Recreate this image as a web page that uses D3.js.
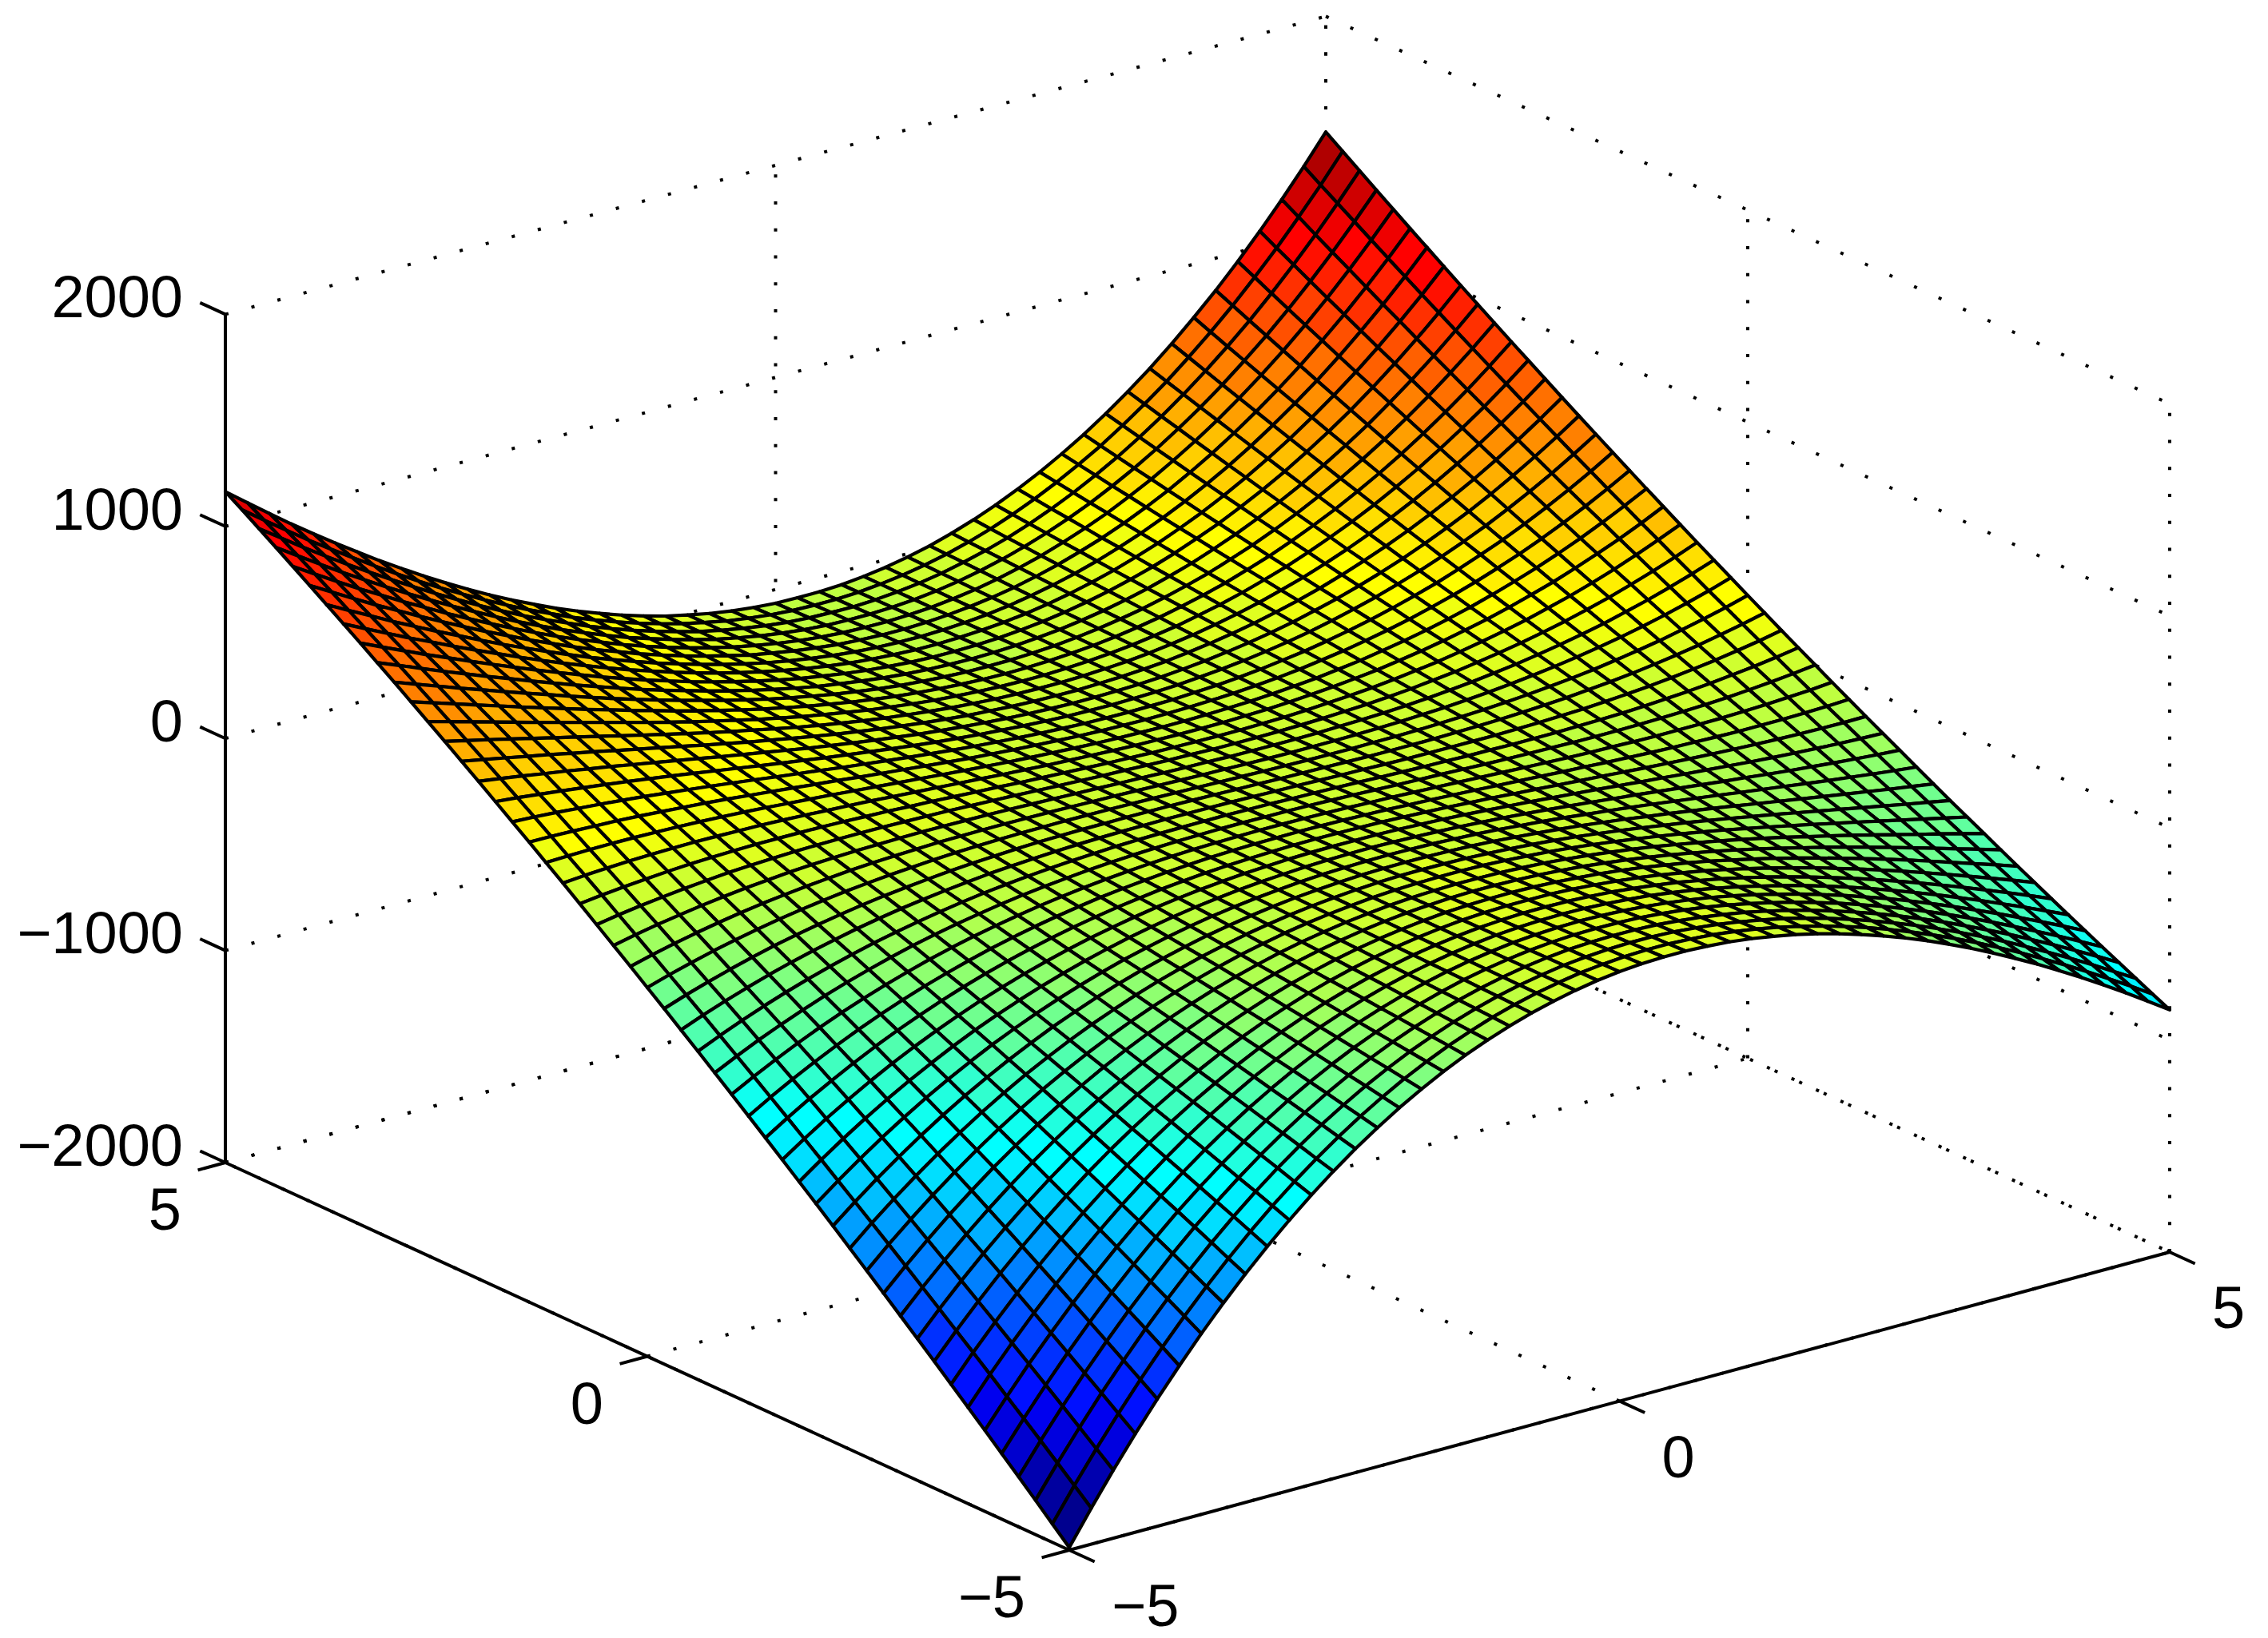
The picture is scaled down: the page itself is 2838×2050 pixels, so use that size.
<!DOCTYPE html>
<html>
<head>
<meta charset="utf-8">
<script src="https://d3js.org/d3.v7.min.js"></script>
<style>
  body { margin: 0; background: #fff; }
  text { font-family: "Liberation Sans", Arial, sans-serif; font-size: 74px; fill: #000; }
</style>
</head>
<body>
<div id="chart"></div>
<script>
// Tick values
const xTicks = [-5, 0, 5];
const yTicks = [-5, 0, 5];
const zTicks = [-2000, -1000, 0, 1000, 2000];

// Mesh positions, same for both floor directions
const xGrid = [-5,-4.8,-4.6,-4.4,-4.2,-4,-3.8,-3.6,-3.4,-3.2,-3,-2.8,-2.6,-2.4,-2.2,-2,-1.8,-1.6,-1.4,-1.2,-1,-0.8,-0.6,-0.4,-0.2,0,0.2,0.4,0.6,0.8,1,1.2,1.4,1.6,1.8,2,2.2,2.4,2.6,2.8,3,3.2,3.4,3.6,3.8,4,4.2,4.4,4.6,4.8,5];
const yGrid = [-5,-4.8,-4.6,-4.4,-4.2,-4,-3.8,-3.6,-3.4,-3.2,-3,-2.8,-2.6,-2.4,-2.2,-2,-1.8,-1.6,-1.4,-1.2,-1,-0.8,-0.6,-0.4,-0.2,0,0.2,0.4,0.6,0.8,1,1.2,1.4,1.6,1.8,2,2.2,2.4,2.6,2.8,3,3.2,3.4,3.6,3.8,4,4.2,4.4,4.6,4.8,5];

// Surface heights, zGrid[i][j] is the height at xGrid[i], yGrid[j]
const zGrid = [
[-1988,-1913,-1838,-1764,-1691,-1618,-1546,-1474,-1402,-1331,-1261,-1191,-1121,-1052,-983,-915,-848,-781,-714,-648,-582,-517,-452,-388,-324,-261,-198,-136,-74,-12,49,109,169,228,287,346,404,461,518,575,631,686,742,796,850,904,957,1010,1062,1114,1164],
[-1830,-1760,-1691,-1622,-1554,-1487,-1419,-1352,-1286,-1220,-1155,-1090,-1025,-961,-898,-835,-772,-710,-648,-587,-526,-466,-406,-346,-287,-229,-171,-113,-56,1,57,112,168,223,277,331,384,437,490,542,593,645,695,745,795,845,893,942,990,1037,1084],
[-1679,-1615,-1551,-1487,-1424,-1361,-1299,-1237,-1176,-1115,-1055,-995,-935,-876,-817,-759,-701,-643,-586,-530,-474,-418,-363,-308,-254,-200,-146,-93,-41,11,63,114,165,216,265,315,364,413,461,509,556,603,649,695,741,786,830,875,918,962,1005],
[-1536,-1477,-1417,-1359,-1300,-1243,-1185,-1128,-1071,-1015,-960,-904,-849,-795,-741,-687,-634,-581,-529,-477,-425,-374,-323,-273,-223,-173,-124,-76,-28,20,68,115,161,207,253,298,343,388,432,475,518,561,603,645,687,728,768,809,849,888,927],
[-1400,-1345,-1291,-1237,-1183,-1130,-1077,-1025,-973,-921,-870,-819,-769,-719,-669,-620,-571,-522,-474,-427,-379,-333,-286,-240,-194,-149,-104,-60,-16,28,71,114,157,199,240,282,323,363,403,443,482,521,560,598,635,673,710,746,782,818,853],
[-1271,-1220,-1170,-1121,-1072,-1023,-975,-927,-879,-832,-785,-738,-692,-647,-601,-556,-512,-467,-423,-380,-337,-294,-252,-210,-168,-127,-86,-46,-6,34,73,112,151,189,227,264,301,338,374,410,446,481,516,550,584,618,651,684,717,749,781],
[-1148,-1102,-1057,-1012,-967,-922,-878,-834,-791,-748,-705,-663,-621,-579,-538,-497,-457,-416,-376,-337,-298,-259,-221,-183,-145,-107,-70,-34,3,38,74,109,144,179,213,247,280,313,346,378,410,442,473,504,535,565,595,624,654,682,711],
[-1032,-991,-949,-908,-868,-827,-787,-747,-708,-669,-630,-592,-554,-516,-479,-442,-405,-369,-333,-297,-262,-227,-192,-158,-124,-90,-57,-24,9,41,73,105,136,167,198,228,258,288,317,346,375,403,431,459,486,513,539,566,592,617,642],
[-923,-886,-848,-811,-774,-738,-702,-666,-630,-595,-560,-526,-491,-457,-424,-390,-357,-325,-292,-260,-229,-197,-166,-135,-105,-75,-45,-15,14,43,71,100,128,155,183,210,236,263,289,314,340,365,390,414,438,462,486,509,532,554,577],
[-821,-787,-753,-720,-687,-654,-622,-589,-558,-526,-495,-464,-433,-403,-373,-343,-313,-284,-255,-227,-198,-170,-143,-115,-88,-61,-35,-8,18,43,69,94,119,143,167,191,215,238,261,284,306,328,350,371,393,414,434,455,475,494,514],
[-725,-694,-664,-635,-605,-576,-547,-518,-490,-462,-434,-406,-379,-352,-325,-299,-273,-247,-221,-196,-171,-146,-122,-97,-73,-50,-26,-3,20,42,65,87,108,130,151,172,193,213,233,253,272,292,311,329,348,366,384,402,419,436,453],
[-635,-608,-581,-555,-529,-503,-477,-452,-427,-402,-378,-353,-329,-305,-282,-259,-236,-213,-190,-168,-146,-124,-103,-82,-61,-40,-19,1,21,41,60,79,98,117,135,153,171,189,206,224,240,257,273,290,305,321,336,351,366,381,395],
[-551,-528,-504,-481,-458,-435,-413,-391,-369,-347,-326,-304,-283,-263,-242,-222,-202,-182,-162,-143,-124,-105,-86,-68,-50,-32,-14,3,21,38,54,71,87,103,119,135,150,165,180,194,209,223,237,251,264,277,290,303,315,328,340],
[-473,-453,-432,-412,-392,-373,-353,-334,-315,-296,-278,-259,-241,-223,-205,-188,-171,-154,-137,-120,-104,-87,-71,-56,-40,-25,-10,5,20,34,49,63,76,90,103,117,129,142,155,167,179,191,202,214,225,236,247,257,268,278,288],
[-402,-384,-367,-349,-332,-315,-299,-282,-266,-250,-234,-218,-203,-187,-172,-157,-143,-128,-114,-100,-86,-72,-59,-45,-32,-19,-6,6,18,31,43,54,66,77,88,99,110,121,131,141,151,161,170,180,189,198,207,215,224,232,240],
[-336,-321,-306,-292,-277,-263,-249,-235,-221,-208,-194,-181,-168,-155,-143,-130,-118,-106,-94,-82,-71,-59,-48,-37,-26,-15,-5,5,16,25,35,45,54,63,72,81,90,99,107,115,123,131,138,146,153,160,167,174,180,186,193],
[-276,-263,-251,-239,-227,-215,-203,-192,-181,-169,-158,-148,-137,-126,-116,-106,-96,-86,-76,-66,-57,-48,-39,-30,-21,-12,-4,4,13,21,28,36,43,51,58,65,72,78,85,91,98,104,109,115,121,126,131,136,141,146,151],
[-221,-211,-201,-191,-182,-172,-163,-153,-144,-135,-126,-118,-109,-101,-92,-84,-76,-68,-61,-53,-46,-38,-31,-24,-17,-10,-4,3,9,15,21,27,33,38,44,49,54,59,64,69,73,78,82,86,90,94,98,102,105,108,112],
[-172,-164,-157,-149,-141,-134,-126,-119,-112,-105,-98,-91,-85,-78,-72,-65,-59,-53,-47,-42,-36,-30,-25,-20,-15,-10,-5,0,5,9,14,18,22,26,30,34,38,41,45,48,51,54,57,60,62,65,67,70,72,74,76],
[-129,-123,-117,-111,-105,-100,-94,-89,-84,-78,-73,-68,-63,-59,-54,-49,-45,-40,-36,-32,-28,-24,-20,-17,-13,-9,-6,-3,1,4,7,9,12,15,17,20,22,24,27,29,31,32,34,36,37,39,40,41,42,43,44],
[-91,-86,-82,-78,-74,-70,-66,-63,-59,-55,-52,-49,-45,-42,-39,-36,-33,-30,-27,-25,-22,-20,-17,-15,-13,-10,-8,-6,-4,-3,-1,1,2,4,5,6,8,9,10,11,12,12,13,14,14,14,15,15,15,15,15],
[-58,-55,-52,-50,-47,-45,-43,-40,-38,-36,-34,-32,-30,-28,-26,-25,-23,-21,-20,-18,-17,-16,-15,-14,-12,-11,-11,-10,-9,-8,-7,-7,-6,-6,-5,-5,-5,-4,-4,-4,-4,-4,-4,-5,-5,-5,-6,-6,-7,-7,-8],
[-30,-28,-27,-26,-25,-24,-23,-22,-21,-20,-19,-19,-18,-17,-17,-16,-16,-15,-15,-14,-14,-14,-14,-13,-13,-13,-13,-13,-13,-13,-14,-14,-14,-14,-15,-15,-16,-16,-17,-18,-19,-19,-20,-21,-22,-23,-24,-25,-26,-28,-29],
[-7,-7,-7,-6,-7,-7,-7,-7,-7,-7,-7,-8,-8,-8,-9,-9,-10,-10,-11,-11,-12,-12,-13,-14,-14,-15,-16,-17,-18,-18,-19,-20,-21,-22,-23,-24,-26,-27,-28,-29,-31,-32,-33,-35,-36,-37,-39,-40,-42,-43,-45],
[12,11,10,9,8,7,6,5,4,3,1,0,-1,-2,-3,-5,-6,-7,-8,-10,-11,-12,-13,-15,-16,-17,-19,-20,-21,-23,-24,-26,-27,-29,-30,-32,-33,-35,-36,-38,-40,-42,-43,-45,-47,-49,-50,-52,-54,-55,-57],
[25,23,21,20,18,16,14,12,11,9,7,5,3,2,0,-2,-4,-6,-7,-9,-11,-13,-15,-16,-18,-20,-22,-24,-25,-27,-29,-31,-33,-34,-36,-38,-40,-42,-43,-45,-47,-49,-51,-52,-54,-56,-58,-60,-61,-63,-65],
[34,31,29,26,24,22,19,17,15,12,10,8,5,3,1,-1,-3,-6,-8,-10,-12,-14,-16,-18,-21,-23,-25,-27,-29,-31,-33,-35,-37,-39,-41,-42,-44,-46,-48,-50,-52,-53,-55,-57,-58,-60,-61,-63,-64,-66,-67],
[38,35,32,29,26,24,21,18,15,13,10,7,5,2,0,-3,-5,-7,-10,-12,-14,-16,-19,-21,-23,-25,-27,-29,-31,-33,-35,-37,-39,-41,-43,-45,-46,-48,-50,-52,-53,-55,-56,-58,-59,-61,-62,-63,-65,-66,-67],
[38,35,32,28,25,22,19,16,14,11,8,5,3,0,-3,-5,-8,-10,-12,-15,-17,-19,-21,-23,-26,-28,-30,-32,-34,-35,-37,-39,-41,-42,-44,-45,-47,-48,-50,-51,-52,-53,-54,-55,-56,-57,-58,-59,-60,-61,-62],
[33,30,27,24,21,17,14,11,9,6,3,0,-2,-5,-7,-10,-12,-14,-16,-18,-21,-22,-24,-26,-28,-30,-32,-33,-35,-36,-37,-39,-40,-41,-42,-43,-44,-45,-46,-47,-48,-48,-49,-49,-50,-50,-51,-51,-51,-51,-51],
[25,22,18,15,12,9,6,4,1,-2,-4,-6,-9,-11,-13,-15,-17,-19,-21,-23,-24,-26,-27,-29,-30,-32,-33,-34,-35,-36,-37,-37,-38,-39,-39,-40,-40,-40,-40,-40,-41,-40,-40,-40,-40,-39,-39,-38,-38,-37,-36],
[12,9,6,3,1,-2,-4,-7,-9,-11,-13,-15,-17,-19,-21,-22,-24,-25,-26,-28,-29,-30,-31,-31,-32,-33,-33,-34,-34,-34,-34,-34,-34,-34,-34,-34,-33,-33,-32,-31,-30,-29,-28,-27,-26,-24,-23,-21,-20,-18,-16],
[-5,-7,-10,-12,-14,-16,-18,-20,-21,-23,-25,-26,-27,-28,-30,-31,-31,-32,-33,-33,-33,-34,-34,-34,-34,-34,-33,-33,-32,-32,-31,-30,-29,-28,-26,-25,-24,-22,-20,-18,-16,-14,-12,-10,-7,-5,-2,1,4,6,9],
[-25,-27,-29,-30,-32,-33,-34,-35,-36,-37,-38,-39,-39,-39,-40,-40,-40,-40,-39,-39,-38,-37,-37,-36,-35,-33,-32,-30,-29,-27,-25,-23,-21,-19,-16,-14,-11,-8,-5,-2,1,4,8,11,15,19,23,27,31,35,40],
[-49,-51,-51,-52,-53,-53,-54,-54,-54,-54,-54,-53,-53,-52,-51,-50,-49,-48,-47,-45,-43,-41,-39,-37,-35,-33,-30,-27,-24,-21,-18,-15,-12,-8,-4,0,4,8,12,17,21,26,31,36,41,47,52,58,63,69,76],
[-77,-77,-77,-77,-77,-76,-75,-74,-73,-72,-71,-69,-68,-66,-64,-62,-59,-57,-54,-51,-48,-45,-42,-38,-35,-31,-27,-23,-19,-14,-9,-5,0,6,11,16,22,28,34,40,46,52,59,65,72,80,87,94,101,109,117],
[-109,-108,-106,-105,-103,-102,-100,-97,-95,-92,-90,-87,-84,-81,-77,-74,-70,-66,-62,-57,-53,-48,-43,-38,-33,-28,-22,-17,-11,-5,2,8,15,21,28,35,43,50,58,66,74,82,90,99,108,116,126,135,144,154,164],
[-144,-141,-139,-136,-133,-129,-126,-122,-119,-115,-110,-106,-101,-97,-92,-86,-81,-75,-70,-64,-58,-51,-45,-38,-31,-24,-17,-9,-2,6,14,22,31,40,48,57,67,76,86,95,105,115,126,136,147,158,169,180,192,204,216],
[-182,-178,-174,-169,-164,-160,-154,-149,-144,-138,-132,-126,-120,-113,-106,-99,-92,-85,-77,-69,-62,-53,-45,-36,-28,-19,-9,0,10,20,30,40,51,61,72,83,94,106,118,130,142,154,167,179,192,205,219,232,246,260,274],
[-223,-218,-212,-205,-199,-192,-185,-178,-171,-163,-155,-147,-139,-131,-122,-113,-104,-95,-85,-76,-66,-55,-45,-34,-23,-12,-1,11,22,34,47,59,72,85,98,111,124,138,152,166,181,195,210,225,241,256,272,288,304,320,337],
[-268,-260,-252,-244,-235,-227,-218,-209,-199,-190,-180,-170,-160,-149,-138,-127,-116,-104,-93,-81,-68,-56,-43,-30,-17,-4,10,24,38,52,67,81,96,112,127,143,159,175,192,208,225,242,260,277,295,313,332,350,369,388,407],
[-315,-305,-295,-285,-274,-263,-252,-241,-230,-218,-206,-193,-181,-168,-155,-141,-128,-114,-100,-86,-71,-56,-41,-26,-10,6,22,38,55,72,89,106,124,142,160,178,197,215,235,254,273,293,313,334,354,375,396,418,439,461,483],
[-366,-353,-341,-328,-315,-302,-289,-275,-261,-247,-232,-218,-203,-187,-172,-156,-140,-123,-107,-90,-73,-55,-38,-20,-1,17,36,55,74,94,113,133,154,174,195,216,238,259,281,303,326,348,371,395,418,442,466,490,515,539,564],
[-419,-404,-389,-374,-358,-343,-327,-310,-294,-277,-260,-243,-225,-207,-189,-170,-151,-132,-113,-93,-73,-53,-33,-12,9,30,52,74,96,118,141,164,187,211,234,259,283,308,332,358,383,409,435,461,488,515,542,569,597,625,653],
[-474,-457,-439,-422,-403,-385,-366,-347,-328,-308,-288,-268,-248,-227,-206,-184,-163,-141,-118,-96,-73,-50,-26,-3,21,46,70,95,120,146,172,198,224,251,277,305,332,360,388,416,445,474,503,533,563,593,623,654,685,716,748],
[-533,-513,-492,-471,-450,-429,-407,-385,-363,-340,-317,-294,-271,-247,-223,-198,-174,-149,-123,-98,-72,-46,-19,8,35,63,90,118,147,175,204,234,263,293,323,354,385,416,447,479,511,543,576,609,642,676,710,744,778,813,848],
[-593,-570,-547,-523,-499,-474,-449,-424,-399,-373,-347,-321,-294,-267,-240,-212,-184,-156,-127,-98,-69,-40,-10,21,51,82,113,145,176,208,241,274,307,340,374,408,442,477,512,547,583,619,655,691,728,766,803,841,879,918,956],
[-656,-630,-603,-576,-549,-521,-493,-464,-436,-407,-377,-348,-317,-287,-256,-225,-194,-162,-130,-98,-65,-32,2,35,69,104,138,173,209,244,281,317,354,391,428,466,504,542,581,620,659,699,739,779,820,861,902,944,986,1028,1071],
[-721,-692,-661,-631,-600,-569,-537,-505,-473,-441,-408,-374,-341,-307,-273,-238,-203,-168,-132,-96,-59,-23,14,52,90,128,166,205,244,284,323,364,404,445,486,528,570,612,654,697,741,784,828,873,917,962,1008,1053,1099,1146,1192],
[-789,-755,-722,-687,-653,-618,-583,-547,-511,-475,-438,-401,-364,-326,-288,-250,-211,-172,-133,-93,-53,-12,29,70,112,154,196,239,282,326,369,414,458,503,548,594,640,686,733,780,827,875,923,971,1020,1069,1119,1169,1219,1269,1320],
[-858,-821,-783,-745,-707,-668,-629,-590,-550,-510,-469,-428,-387,-346,-304,-261,-218,-175,-132,-88,-44,1,46,91,137,183,230,276,323,371,419,467,516,565,614,664,714,765,816,867,919,971,1023,1076,1129,1182,1236,1290,1345,1400,1455]
];

// jet colormap stops, by colormap index 1..64
const jetIndex = [1, 8, 24, 40, 56, 64];
const jetColors = ["#00008f", "#0000ff", "#00ffff", "#ffff00", "#ff0000", "#800000"];

const width = 2838;
const height = 2050;

const svg = d3.select("#chart").append("svg")
  .attr("width", width)
  .attr("height", height)
  .style("display", "block");

// Fixed 3D view, each data axis adds its own screen offset
const xToPx = d3.scaleLinear().domain([-5, 5]).range([1338, 2715]);
const yToPx = d3.scaleLinear().domain([-5, 5]).range([0, -1056]);
const zToPy = d3.scaleLinear().domain([-2000, 2000]).range([1940, 878.4]);
const xToPy = d3.scaleLinear().domain([-5, 5]).range([0, -373]);
const yToPy = d3.scaleLinear().domain([-5, 5]).range([0, -485]);

const project = (x, y, z) => [xToPx(x) + yToPx(y), zToPy(z) + xToPy(x) + yToPy(y)];

const jetScale = d3.scaleLinear().domain(jetIndex).range(jetColors);
const colorScale = d3.scaleQuantize()
  .domain(d3.extent(zGrid.flat()))
  .range(d3.range(1, 65).map(k => jetScale(k)));

const line = d3.line();
const zMin = zTicks[0];
const zMax = zTicks[zTicks.length - 1];
const xMin = xTicks[0], xMax = xTicks[2];
const yMin = yTicks[0], yMax = yTicks[2];

// Dotted grid on the two back walls and the floor
const gridLines = [];
zTicks.forEach(z => {
  gridLines.push([project(xMin, yMax, z), project(xMax, yMax, z)]);
  gridLines.push([project(xMax, yMax, z), project(xMax, yMin, z)]);
});
xTicks.forEach(x => {
  gridLines.push([project(x, yMax, zMin), project(x, yMax, zMax)]);
  gridLines.push([project(x, yMin, zMin), project(x, yMax, zMin)]);
});
yTicks.forEach(y => {
  gridLines.push([project(xMax, y, zMin), project(xMax, y, zMax)]);
  gridLines.push([project(xMin, y, zMin), project(xMax, y, zMin)]);
});

svg.selectAll(".grid")
  .data(gridLines)
  .enter().append("path")
  .attr("class", "grid")
  .attr("d", line)
  .attr("fill", "none")
  .attr("stroke", "#000")
  .attr("stroke-width", 4)
  .attr("stroke-dasharray", "4 29.75");

// Solid axes
const axisLines = [
  [project(xMin, yMin, zMin), project(xMax, yMin, zMin)],
  [project(xMin, yMin, zMin), project(xMin, yMax, zMin)],
  [project(xMin, yMax, zMin), project(xMin, yMax, zMax)]
];
xTicks.forEach(x => axisLines.push([project(x, yMin, zMin), project(x, yMin - 0.3, zMin)]));
yTicks.forEach(y => axisLines.push([project(xMin, y, zMin), project(xMin - 0.25, y, zMin)]));
zTicks.forEach(z => axisLines.push([project(xMin, yMax, z), project(xMin, yMax + 0.3, z)]));

svg.selectAll(".axis-line")
  .data(axisLines)
  .enter().append("path")
  .attr("class", "axis-line")
  .attr("d", line)
  .attr("fill", "none")
  .attr("stroke", "#000")
  .attr("stroke-width", 4);

// Surface cells, far corner first so near cells paint over
const cells = [];
for (let i = xGrid.length - 2; i >= 0; i--) {
  for (let j = yGrid.length - 2; j >= 0; j--) {
    cells.push({ i, j });
  }
}

svg.selectAll(".cell")
  .data(cells)
  .enter().append("path")
  .attr("class", "cell")
  .attr("d", d => line([
    project(xGrid[d.i], yGrid[d.j], zGrid[d.i][d.j]),
    project(xGrid[d.i + 1], yGrid[d.j], zGrid[d.i + 1][d.j]),
    project(xGrid[d.i + 1], yGrid[d.j + 1], zGrid[d.i + 1][d.j + 1]),
    project(xGrid[d.i], yGrid[d.j + 1], zGrid[d.i][d.j + 1])
  ]) + "Z")
  .attr("fill", d => colorScale(zGrid[d.i][d.j]))
  .attr("stroke", "#000")
  .attr("stroke-width", 4.2)
  .attr("stroke-linejoin", "round");

// Tick labels
const fmt = v => String(v).replace("-", "\u2212");

svg.selectAll(".z-label")
  .data(zTicks)
  .enter().append("text")
  .attr("class", "z-label")
  .attr("x", d => project(xMin, yMax, d)[0] - 53)
  .attr("y", d => project(xMin, yMax, d)[1] + 3.8)
  .attr("text-anchor", "end")
  .text(fmt);

svg.selectAll(".y-label")
  .data(yTicks)
  .enter().append("text")
  .attr("class", "y-label")
  .attr("x", d => project(xMin, d, zMin)[0] - 55)
  .attr("y", d => project(xMin, d, zMin)[1] + 84)
  .attr("text-anchor", "end")
  .text(fmt);

svg.selectAll(".x-label")
  .data(xTicks)
  .enter().append("text")
  .attr("class", "x-label")
  .attr("x", d => project(d, yMin, zMin)[0] + 53)
  .attr("y", d => project(d, yMin, zMin)[1] + 95)
  .attr("text-anchor", "start")
  .text(fmt);
</script>
</body>
</html>
